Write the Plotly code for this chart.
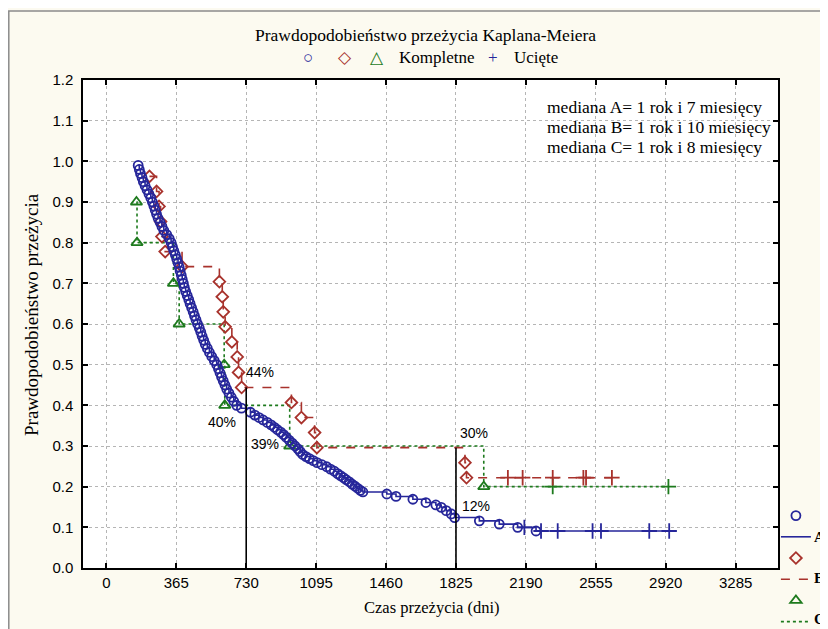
import plotly.graph_objects as go

# ---------------- data ----------------
# Group A: event (complete) times in days and KM survival after each event
a_days = [166, 172, 178, 186, 193, 202, 212, 222, 232, 240, 248, 255, 262, 270, 280, 290, 300, 315, 328, 338,
          345, 352, 360, 367, 374, 380, 385, 391, 396, 402, 407, 414, 422, 430, 437, 445, 453, 460, 468, 476,
          485, 493, 500, 508, 516, 527, 538, 550, 563, 576, 585, 593, 601, 610, 619, 628, 640, 652, 665, 680,
          705, 752, 775, 797, 818, 840, 860, 877, 893, 910, 925, 940, 955, 970, 985, 1000, 1012, 1025, 1042, 1060,
          1080, 1100, 1125, 1150, 1170, 1190, 1207, 1222, 1238, 1252, 1268, 1283, 1298, 1312, 1326, 1339,
          1464, 1512, 1600, 1668, 1720, 1748, 1774, 1800, 1818, 1947, 2051, 2147, 2243]
a_surv = [0.99, 0.98, 0.97, 0.96, 0.95, 0.94, 0.93, 0.92, 0.91, 0.90, 0.89, 0.88, 0.87, 0.86, 0.85, 0.84, 0.83, 0.82, 0.81, 0.80,
          0.79, 0.78, 0.77, 0.76, 0.75, 0.74, 0.73, 0.72, 0.71, 0.70, 0.69, 0.68, 0.67, 0.66, 0.65, 0.64, 0.63, 0.62, 0.61, 0.60,
          0.59, 0.58, 0.57, 0.56, 0.55, 0.54, 0.53, 0.52, 0.51, 0.50, 0.49, 0.48, 0.47, 0.46, 0.45, 0.44, 0.43, 0.42, 0.41, 0.40,
          0.393, 0.383, 0.376, 0.370, 0.364, 0.358, 0.352, 0.346, 0.340, 0.334, 0.328, 0.321, 0.314, 0.307, 0.300, 0.293, 0.286, 0.279, 0.274, 0.269,
          0.264, 0.259, 0.254, 0.249, 0.243, 0.238, 0.232, 0.227, 0.222, 0.217, 0.212, 0.206, 0.201, 0.196, 0.191, 0.187,
          0.182, 0.176, 0.169, 0.161, 0.155, 0.149, 0.141, 0.133, 0.124, 0.116, 0.108, 0.100, 0.091]
a_cens_days = [2182, 2269, 2356, 2538, 2582, 2834, 2938]
a_cens_surv = [0.100, 0.091, 0.091, 0.091, 0.091, 0.091, 0.091]

# Group B
b_days = [225, 262, 275, 283, 290, 307, 395, 590, 605, 610, 620, 655, 683, 690, 706, 966, 1018, 1087, 1099, 1872, 1880]
b_surv = [0.963, 0.926, 0.889, 0.852, 0.815, 0.778, 0.741, 0.704, 0.667, 0.630, 0.593, 0.556, 0.519, 0.481, 0.444,
          0.407, 0.370, 0.333, 0.296, 0.259, 0.222]
b_cens_days = [2096, 2173, 2330, 2490, 2504, 2639]
b_cens_surv = [0.222, 0.222, 0.222, 0.222, 0.222, 0.222]

# Group C
c_days = [157, 160, 350, 380, 615, 618, 957, 1970]
c_surv = [0.90, 0.80, 0.70, 0.60, 0.50, 0.40, 0.30, 0.20]
c_cens_days = [2330, 2934]
c_cens_surv = [0.20, 0.20]

group_names = ["A", "B", "C"]

# medians / marked times
mark_days = [730, 1825]
mark_tops = [0.444, 0.296]
pct_labels = ["44%", "40%", "39%", "30%", "12%"]
pct_days = [800, 602, 826, 1921, 1932]
pct_vals = [0.483, 0.360, 0.304, 0.333, 0.152]

x_ticks = [0, 365, 730, 1095, 1460, 1825, 2190, 2555, 2920, 3285]
median_texts = ["mediana A= 1 rok i 7 miesięcy",
                "mediana B= 1 rok i 10 miesięcy",
                "mediana C= 1 rok i 8 miesięcy"]

# ---------------- styles ----------------
COL_A = "#26269a"
COL_B = "#a8322c"
COL_C = "#1d7a1d"
SERIF = "Liberation Serif, Times New Roman, serif"
SANS = "Liberation Sans, Arial, sans-serif"

fig = go.Figure()


def add_group(days, surv, cdays, csurv, color, dash, symbol, msize):
    end = max(cdays) if cdays else days[-1]
    fig.add_trace(go.Scatter(x=days, y=surv, mode="markers", name=" ",
                             marker=dict(symbol=symbol, size=msize, color=color,
                                         line=dict(color=color, width=1.8)),
                             showlegend=True, hoverinfo="skip"))
    fig.add_trace(go.Scatter(x=list(days) + [end], y=list(surv) + [surv[-1]], mode="lines",
                             name=" ", line=dict(color=color, width=1.6, dash=dash, shape="hv"),
                             showlegend=True, hoverinfo="skip"))
    fig.add_trace(go.Scatter(x=cdays, y=csurv, mode="markers", showlegend=False,
                             marker=dict(symbol="cross-thin-open", size=11, color=color,
                                         line=dict(color=color, width=1.8)),
                             hoverinfo="skip"))


add_group(c_days, c_surv, c_cens_days, c_cens_surv, COL_C, "dot", "triangle-up-open", 10)
add_group(b_days, b_surv, b_cens_days, b_cens_surv, COL_B, "dash", "diamond-open", 9)
add_group(a_days, a_surv, a_cens_days, a_cens_surv, COL_A, "solid", "circle-open", 9)

for d, top in zip(mark_days, mark_tops):
    fig.add_trace(go.Scatter(x=[d, d], y=[0, top], mode="lines", showlegend=False,
                             line=dict(color="black", width=1.6), hoverinfo="skip"))

# legend order: circle, A line, diamond, B line, triangle, C line
ranks = {0: 6, 1: 7, 3: 3, 4: 4, 6: 1, 7: 2}
for i, r in ranks.items():
    fig.data[i].legendrank = r

# ---- layout geometry (figure pixels; page is shown with an 8px body offset) ----
O = 8
W, H = 820, 621
L, R, T, B = 75, 770, 72, 560
def fx(wx):
    return (wx - O - L) / (R - L)
def fy(wy):
    return (B - (wy - O)) / (B - T)

def ann(x, y, text, size, color="black", family=SERIF, xanchor="center", angle=0, weight="normal"):
    return dict(x=fx(x), y=fy(y), xref="paper", yref="paper", text=text, showarrow=False,
                xanchor=xanchor, yanchor="middle", textangle=angle,
                font=dict(family=family, size=size, color=color, weight=weight))

annotations = []
for lab, d, v in zip(pct_labels, pct_days, pct_vals):
    annotations.append(dict(x=d, y=v, xref="x", yref="y", text=lab, showarrow=False,
                            xanchor="center", yanchor="middle",
                            font=dict(family=SANS, size=14, color="black")))

annotations.append(ann(425, 35, "Prawdopodobieństwo przeżycia Kaplana-Meiera", 17.5))
leg_items = [(308, "○", COL_A, "center"), (345, "◇", COL_B, "center"), (377, "△", COL_C, "center"),
             (397, "Kompletne", "black", "left"), (493, "+", COL_A, "center"), (512, "Ucięte", "black", "left")]
for xx, t, c, al in leg_items:
    annotations.append(ann(xx, 58, t, 17, color=c, xanchor=al))
for t, yy in zip(median_texts, [107, 127, 147.5]):
    annotations.append(ann(545, yy, t, 17.5, xanchor="left"))
annotations.append(ann(31, 315, "Prawdopodobieństwo przeżycia", 19, angle=-90))
annotations.append(ann(432, 607, "Czas przeżycia (dni)", 16.5))
# names of the right-hand legend lines
for nm, yy in zip(group_names, [537, 578, 619]):
    annotations.append(ann(812, yy, nm, 15, xanchor="left", weight="bold"))

shapes = [
    dict(type="rect", xref="paper", yref="paper", x0=fx(8.8), x1=1.4, y0=-0.4, y1=fy(11),
         fillcolor="#fcfaf0", line=dict(color="#8a8a8a", width=1.5), layer="below"),
    dict(type="rect", xref="paper", yref="paper", x0=0, x1=1, y0=0, y1=1,
         fillcolor="white", line=dict(width=0), layer="below"),
]

axis_common = dict(showline=True, linecolor="black", linewidth=1.5, mirror="ticks",
                   ticks="inside", ticklen=5, tickwidth=1.5, tickcolor="black",
                   showgrid=True, gridcolor="#b5b5b5", gridwidth=1, griddash="dot",
                   zeroline=False, tickfont=dict(family=SANS, size=15, color="black"))

fig.update_layout(
    width=W, height=H,
    margin=dict(l=L, r=W - R, t=T, b=H - B, autoexpand=False),
    paper_bgcolor="#fcfaf0", plot_bgcolor="white",
    xaxis=dict(range=[-122, 3506], tickvals=x_ticks, ticklabelstandoff=0, **axis_common),
    yaxis=dict(range=[0, 1.2], tickvals=[i / 10 for i in range(13)], tickformat=".1f",
               ticklabelstandoff=5, **axis_common),
    annotations=annotations, shapes=shapes,
    showlegend=True,
    legend=dict(x=0.997, xanchor="left", y=fy(500), yanchor="top", bgcolor="rgba(0,0,0,0)",
                font=dict(family=SERIF, size=14, color="black"), itemwidth=30,
                tracegroupgap=0, traceorder="normal"),
)

fig.write_html("out.html")
